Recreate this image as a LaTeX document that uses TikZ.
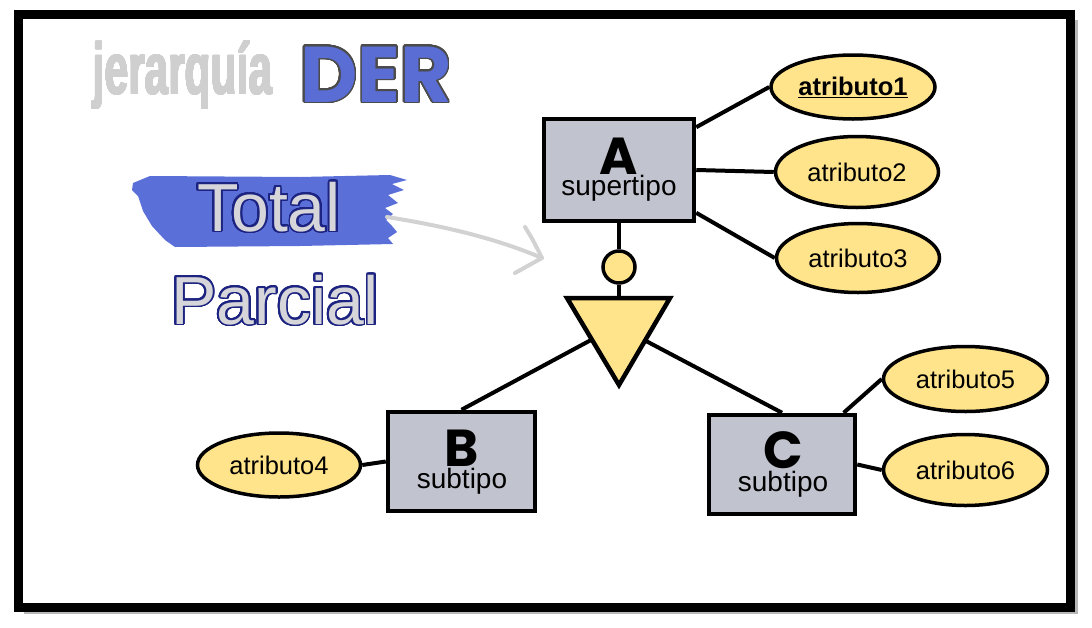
\documentclass[tikz,border=0pt]{standalone}
\usepackage{fontspec}
\setmainfont{Liberation Sans}
\newfontfamily\pop{Poppins}
\usepackage{contour}
\contournumber{32}
\usetikzlibrary{shapes.geometric}
\definecolor{boxgray}{HTML}{C1C4CE}
\definecolor{attryel}{HTML}{FFE48C}
\definecolor{brushblue}{HTML}{5B6FD8}
\definecolor{derblue}{HTML}{5A6DD5}
\definecolor{dergray}{HTML}{4B4B4B}
\definecolor{titlegray}{HTML}{CFCFCF}
\definecolor{outfill}{HTML}{D6D6DA}
\definecolor{outnavy}{HTML}{1C2380}
\definecolor{arrgray}{HTML}{D2D2D2}
\tikzset{
  entity/.style={draw=black, line width=4.5, fill=boxgray, inner sep=0pt, rectangle},
  attr/.style={draw=black, line width=3.5, fill=attryel, ellipse, inner sep=0pt, font=\fontsize{25.5}{27}\selectfont},
  conn/.style={line width=4, black},
  letter/.style={anchor=base, inner sep=0pt, font=\pop\bfseries\fontsize{52}{52}\selectfont},
  sublabel/.style={anchor=base, inner sep=0pt, font=\fontsize{28}{30}\selectfont},
  bigword/.style={anchor=base west, inner sep=0pt, text=outfill, font=\fontsize{68}{68}\selectfont},
}
\begin{document}
\begin{tikzpicture}[x=1pt,y=-1pt]
\useasboundingbox (0,0) rectangle (1092,627);
% frame
\draw[line width=4, black!28] (1076,20) -- (1076,612) -- (24,612);
\draw[line width=9] (18.5,14.5) rectangle (1070.5,607.5);

% title
\contourlength{0.9pt}
\node[anchor=base west, inner sep=0pt, text=titlegray, font=\bfseries\fontsize{72}{72}\selectfont] (tj) at (93,94) {\scalebox{0.59}[1]{\contour{titlegray}{jerarquía}}};
\contourlength{1.6pt}
\node[anchor=base west, inner sep=0pt, text=derblue, font=\pop\bfseries\fontsize{79}{79}\selectfont] (tder) at (300,102) {\contour{dergray}{DER}};

% brush stroke
\fill[brushblue] (133,183) -- (150,176) -- (300,177) -- (390,175) -- (407,180) -- (392,184) -- (404,190) -- (388,195) -- (398,203) -- (385,208) -- (393,214) -- (386,220) -- (392,226) -- (397,232) -- (388,238) -- (393,244) -- (300,246) -- (175,247) -- (165,240) -- (152,226) -- (143,211) -- (138,196) -- (132,190) -- cycle;

\contourlength{1.8pt}
\node[bigword] (total) at (197,231) {\contour{outnavy}{Total}};
\node[bigword] (parcial) at (171,324) {\contour{outnavy}{Parcial}};

% gray arrow
\coordinate (tail) at (387,217);
\coordinate (tip) at (542,258);
\draw[arrgray, line width=4, line cap=round] (tail) .. controls (450,227) and (500,240) .. (tip);
\draw[arrgray, line width=4, line cap=round, line join=round] (525,227) .. controls (533,240) .. (tip) -- (515,273);

% entities
\node[entity, minimum width=150, minimum height=102] (A) at (619,170) {};
\node[entity, minimum width=147, minimum height=99] (B) at (461.5,461.5) {};
\node[entity, minimum width=146, minimum height=99] (C) at (782,464.5) {};
\node[letter] (Al) at (619,174) {A};
\node[sublabel] (As) at (619,195) {supertipo};
\node[letter] (Bl) at (462,466) {B};
\node[sublabel] (Bs) at (462,488) {subtipo};
\node[letter] (Cl) at (783,468) {C};
\node[sublabel] (Cs) at (783,491) {subtipo};

% attributes
\node[attr, minimum width=164, minimum height=64] (a1) at (853,87) {\textbf{\underline{atributo1}}};
\node[attr, minimum width=163, minimum height=71] (a2) at (857,172) {atributo2};
\node[attr, minimum width=163, minimum height=69] (a3) at (858,258) {atributo3};
\node[attr, minimum width=163, minimum height=64] (a4) at (279,465) {atributo4};
\node[attr, minimum width=164, minimum height=65] (a5) at (965.5,379) {atributo5};
\node[attr, minimum width=164, minimum height=71] (a6) at (965.5,470) {atributo6};

% specialization
\node[circle, draw=black, line width=3.5, fill=attryel, minimum size=32, inner sep=0pt] (circ) at (619,267) {};
\coordinate (t1) at (567,298);
\coordinate (t2) at (670,298);
\coordinate (t3) at (619,385);
\coordinate (ttop) at (619,298);
\coordinate (tl) at (591,340);
\coordinate (tr) at (646,341);

% connectors
\draw[conn] (A.29) -- (a1.west);
\draw[conn] (A.east) -- (a2.west);
\draw[conn] (A.-29) -- (a3.west);
\draw[conn] (A.south) -- (circ.north);
\draw[conn] (circ.south) -- (ttop);
\draw[conn] (tl) -- (B.north);
\draw[conn] (tr) -- (C.north);
\draw[conn] (a4.east) -- (B.west);
\draw[conn] (C.40) -- (a5.west);
\draw[conn] (C.east) -- (a6.west);
\filldraw[fill=attryel, draw=black, line width=4.5] (t1) -- (t2) -- (t3) -- cycle;
\end{tikzpicture}
\end{document}
